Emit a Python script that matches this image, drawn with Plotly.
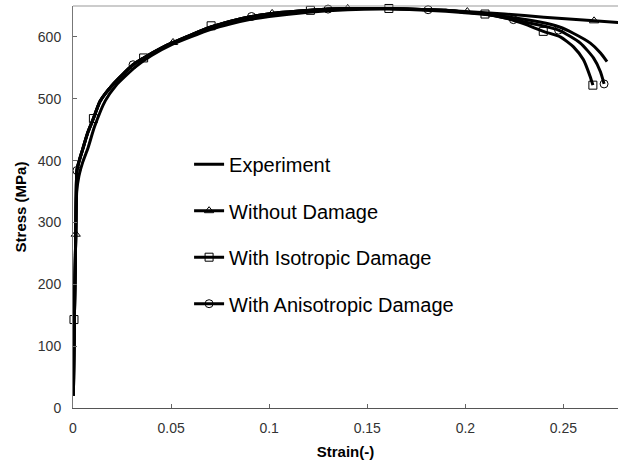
import plotly.graph_objects as go

# ---------------- data ----------------
exp_strain = [0.0002, 0.0007, 0.0014, 0.0019, 0.003, 0.005, 0.0075, 0.011, 0.0165, 0.022,
              0.032, 0.04, 0.05, 0.06, 0.07, 0.08, 0.09, 0.1, 0.12, 0.14, 0.16, 0.18,
              0.2, 0.22, 0.238, 0.248, 0.255, 0.2637, 0.2689, 0.2722]
exp_stress = [20, 143, 281, 350, 375, 398, 419, 455, 497, 522,
              552, 570, 587, 600, 612, 621, 628, 633, 640, 644, 645, 643,
              639, 633, 624, 616, 606, 590, 574, 560]

sim_strain = [0.0002, 0.0007, 0.0014, 0.002, 0.003, 0.005, 0.0075, 0.0104, 0.0138, 0.02,
              0.0306, 0.036, 0.045, 0.051, 0.06, 0.0704, 0.08, 0.091, 0.1015, 0.121,
              0.13, 0.14, 0.161, 0.181, 0.19]
sim_stress = [20, 143, 281, 384, 398, 419, 445, 468, 496, 522,
              555, 566, 582, 591, 603, 616, 625, 633, 638, 643,
              645, 646, 646, 644, 643]

nodmg_tail_strain = [0.2, 0.22, 0.24, 0.2656, 0.285]
nodmg_tail_stress = [641, 637, 632, 626, 622]

iso_tail_strain = [0.2, 0.21, 0.221, 0.23, 0.2397, 0.2484, 0.2551, 0.2602, 0.2636, 0.265]
iso_tail_stress = [640, 637, 630, 621, 609, 600, 584, 563, 536, 522]

aniso_tail_strain = [0.2, 0.21, 0.2245, 0.2475, 0.2586, 0.2653, 0.2688, 0.2707]
aniso_tail_stress = [640, 637, 628, 611, 590, 566, 544, 524]

tri_strain = [0.0014, 0.051, 0.1015, 0.14, 0.201, 0.2656]
tri_stress = [281, 591, 638, 646, 641, 626]
sq_strain = [0.0005, 0.0104, 0.036, 0.0704, 0.121, 0.161, 0.21, 0.2397, 0.265]
sq_stress = [143, 468, 566, 618, 643, 646, 637, 609, 522]
circ_strain = [0.002, 0.0306, 0.091, 0.13, 0.181, 0.2245, 0.2475, 0.2707]
circ_stress = [384, 555, 633, 645, 644, 628, 611, 524]

x_ticks = [0, 0.05, 0.1, 0.15, 0.2, 0.25]
x_tick_labels = ["0", "0.05", "0.1", "0.15", "0.2", "0.25"]
y_ticks = [0, 100, 200, 300, 400, 500, 600]

names = ["Experiment", "Without Damage", "With Isotropic Damage", "With Anisotropic Damage"]
symbols = [None, "triangle-up-open", "square-open", "circle-open"]

# ---------------- figure ----------------
LW = 3
MS = 8
FONT = "Liberation Sans, Arial, sans-serif"
fig = go.Figure()

curves = [
    (exp_strain, exp_stress),
    (sim_strain + nodmg_tail_strain, sim_stress + nodmg_tail_stress),
    (sim_strain + iso_tail_strain, sim_stress + iso_tail_stress),
    (sim_strain + aniso_tail_strain, sim_stress + aniso_tail_stress),
]
marks = [None, (tri_strain, tri_stress), (sq_strain, sq_stress), (circ_strain, circ_stress)]

for i, (name, sym) in enumerate(zip(names, symbols)):
    cx, cy = curves[i]
    fig.add_trace(go.Scatter(x=cx, y=cy, mode="lines",
                             line=dict(color="black", width=LW, shape="spline", smoothing=0.6),
                             showlegend=False, legendgroup=name, hoverinfo="skip"))
    if marks[i] is not None:
        mx, my = marks[i]
        fig.add_trace(go.Scatter(x=mx, y=my, mode="markers",
                                 marker=dict(symbol=sym, size=MS, color="black",
                                             line=dict(width=1, color="black")),
                                 showlegend=False, legendgroup=name, cliponaxis=False))
    # legend-only entry
    if sym is None:
        fig.add_trace(go.Scatter(x=[None], y=[None], mode="lines", name=name,
                                 line=dict(color="black", width=LW), legendgroup=name))
    else:
        fig.add_trace(go.Scatter(x=[None], y=[None], mode="lines+markers", name=name,
                                 line=dict(color="black", width=LW),
                                 marker=dict(symbol=sym, size=MS, color="black",
                                             line=dict(width=1, color="black")),
                                 legendgroup=name))

fig.update_layout(
    width=618, height=463,
    margin=dict(l=73, r=0, t=6, b=55, autoexpand=False),
    paper_bgcolor="white", plot_bgcolor="white",
    font=dict(family=FONT, color="black"),
    showlegend=True,
    legend=dict(x=0.213, y=0.655, xanchor="left", yanchor="top",
                bgcolor="rgba(0,0,0,0)", borderwidth=0,
                font=dict(family=FONT, size=20, color="black"),
                traceorder="grouped", tracegroupgap=17.5, itemwidth=30),
    xaxis=dict(range=[0, 0.2778], tickvals=x_ticks, ticktext=x_tick_labels,
               ticks="inside", ticklen=4, tickcolor="#666", showgrid=False, zeroline=False,
               showline=True, linecolor="#555", linewidth=1, automargin=False,
               tickfont=dict(size=14, color="#333", family=FONT), ticklabelstandoff=7,
               title=dict(text="<b>Strain(-)</b>", font=dict(size=15, color="black", family=FONT),
                          standoff=11)),
    yaxis=dict(range=[0, 650], tickvals=y_ticks,
               ticks="inside", ticklen=4, tickcolor="#666", showgrid=False, zeroline=False,
               showline=True, linecolor="#777", linewidth=1, automargin=False,
               tickfont=dict(size=14, color="#333", family=FONT), ticklabelstandoff=8,
               title=dict(text="<b>Stress (MPa)</b>", font=dict(size=15, color="black", family=FONT),
                          standoff=7)),
    shapes=[dict(type="line", xref="paper", yref="paper", x0=0, x1=1, y0=1, y1=1,
                 line=dict(color="#999", width=1))],
)

fig.write_html("out.html", config={"displayModeBar": False},
               post_script="document.body.style.margin='0px';")
